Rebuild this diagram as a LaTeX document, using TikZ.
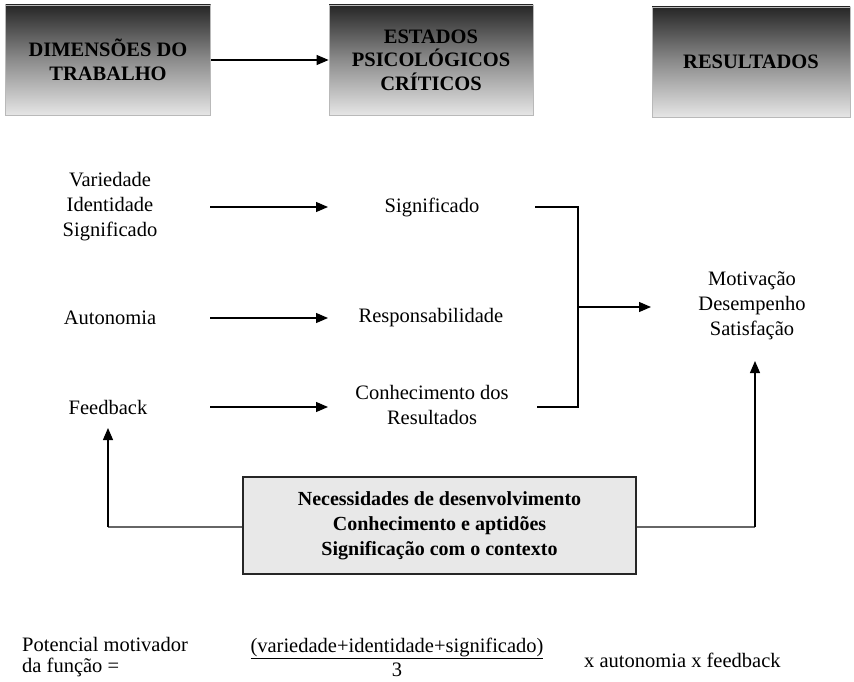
\documentclass[tikz,border=0pt]{standalone}
\usepackage{fontspec}
\setmainfont{Liberation Serif}
\usetikzlibrary{arrows.meta}
\begin{document}
\begin{tikzpicture}[x=1pt,y=-1pt,
  hdr/.style={draw=gray!55, line width=0.8pt, top color=black!85, bottom color=black!10, middle color=black!45, minimum width=205pt, minimum height=110pt, align=center, font=\bfseries\fontsize{20.5}{23.5}\selectfont, inner sep=0pt},
  lbl/.style={align=center, font=\fontsize{20.5}{25}\selectfont, inner sep=1pt},
  arr/.style={-{Triangle[length=12pt,width=10pt]}, line width=1.2pt},
  ln/.style={line width=1.2pt},
  gln/.style={line width=2pt, draw=black!60},
  nbox/.style={draw=black!85, line width=1.4pt, fill=black!9, minimum width=393pt, minimum height=97pt, align=center, font=\bfseries\fontsize{20}{25}\selectfont}
]
\useasboundingbox (0,0) rectangle (854,682);
% headers
\node[hdr] (h1) at (108,60) {DIMENSÕES DO\\TRABALHO};
\node[hdr, minimum width=204pt] (h2) at (431,60) {ESTADOS\\PSICOLÓGICOS\\CRÍTICOS};
\node[hdr, minimum width=198pt] (h3) at (751,62) {RESULTADOS};
\draw[arr] (h1.east) -- (h2.west);
% left column
\node[lbl] (vis) at (110,207) {Variedade\\Identidade\\Significado};
\node[lbl] (aut) at (110,318) {Autonomia};
\node[lbl] (fb) at (108,407) {Feedback};
% middle column
\node[lbl] (sig) at (432,207) {Significado};
\node[lbl] (resp) at (431,318) {Responsabilidade};
\node[lbl] (con) at (432,405) {Conhecimento dos\\Resultados};
% right
\node[lbl] (mot) at (752,306) {Motivação\\Desempenho\\Satisfação};
% arrows left->middle
\coordinate (a1s) at (210,207); \coordinate (a1e) at (328,207);
\coordinate (a2s) at (210,318); \coordinate (a2e) at (328,318);
\coordinate (a3s) at (210,407); \coordinate (a3e) at (328,407);
\draw[arr] (a1s) -- (a1e);
\draw[arr] (a2s) -- (a2e);
\draw[arr] (a3s) -- (a3e);
% bracket
\coordinate (b1) at (535,207); \coordinate (b2) at (578,207);
\coordinate (b3) at (578,407); \coordinate (b4) at (537,407);
\coordinate (bm) at (578,307); \coordinate (be) at (651,307);
\draw[ln] (b1) -- (b2) -- (b3) -- (b4);
\draw[arr] (bm) -- (be);
% bottom box
\node[nbox] (nb) at (439.5,525.5) {Necessidades de desenvolvimento\\Conhecimento e aptidões\\Significação com o contexto};
\coordinate (lc) at (108,527); \coordinate (lt) at (108,428);
\coordinate (rc) at (755,527); \coordinate (rt) at (755,361);
\draw[gln] (nb.west |- lc) -- (lc);
\draw[arr] (lc) -- (lt);
\draw[gln] (nb.east |- rc) -- (rc);
\draw[arr] (rc) -- (rt);
% formula
\node[lbl, anchor=west, align=left, font=\fontsize{20.5}{21}\selectfont] (pm) at (21,657) {Potencial motivador\\da função =};
\node[lbl] (num) at (397,648) {\underline{(variedade+identidade+significado)}};
\node[lbl, inner sep=0pt] (den) at (397,670) {3};
\node[lbl, anchor=west] (xa) at (583,660) {x autonomia x feedback};
\end{tikzpicture}
\end{document}
